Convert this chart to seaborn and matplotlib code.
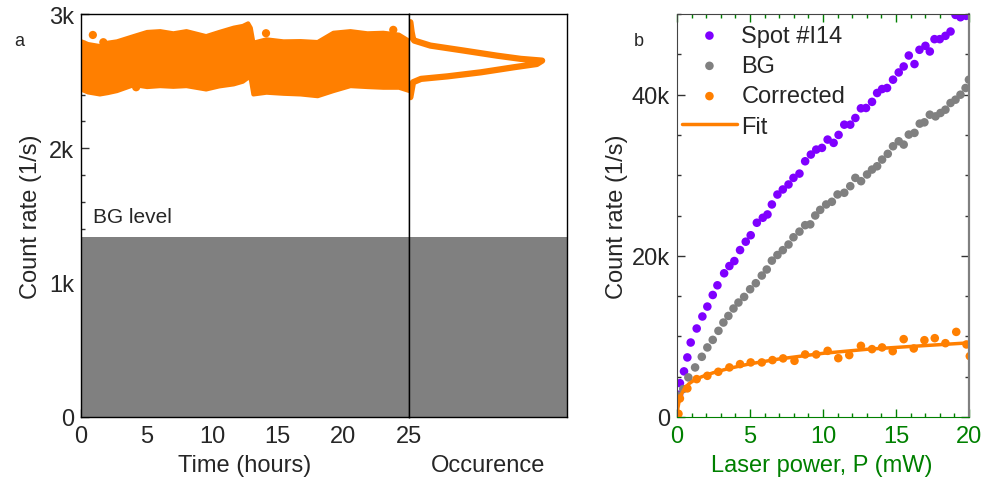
import matplotlib
matplotlib.use("Agg")
import matplotlib.pyplot as plt
import seaborn as sns
from matplotlib.ticker import MultipleLocator, FixedLocator

# ---- panel a: time trace (envelope of the dense trace)
t_env = [0, 0.5, 1.4, 2.0, 2.7, 4.0, 5.0, 6.0, 7.0, 8.0, 9.5, 10.5, 11.6, 12.3, 12.7,
         12.9, 13.1, 14.1, 15.4, 16.7, 18.0, 19.2, 20.5, 21.8, 23.0, 24.2, 25]
rate_upper = [2800, 2780, 2765, 2790, 2800, 2840, 2870, 2876, 2860, 2876, 2839, 2870, 2902,
              2915, 2934, 2900, 2790, 2815, 2800, 2802, 2795, 2864, 2876, 2860, 2864, 2850, 2802]
rate_lower = [2440, 2420, 2405, 2415, 2430, 2475, 2460, 2467, 2462, 2467, 2442, 2465, 2480,
              2500, 2529, 2520, 2405, 2418, 2410, 2405, 2392, 2430, 2467, 2460, 2455, 2455, 2430]
t_out = [0.9, 1.7, 4.2, 14.1, 23.8]
rate_out = [2844, 2790, 2455, 2857, 2882]
bg_level = 1340

# occurrence histogram (count rate vs. normalised occurrence)
occ_rate = [2939, 2864, 2815, 2802, 2765, 2728, 2690, 2666, 2653, 2628, 2604, 2566, 2536, 2517, 2492, 2381]
occ = [0.01, 0.02, 0.03, 0.04, 0.16, 0.41, 0.66, 0.84, 1.0, 0.96, 0.79, 0.54, 0.29, 0.09, 0.03, 0.01]

# ---- panel b: power dependence
p_spot = [0.14, 0.2, 0.48, 0.71, 0.94, 1.35, 1.74, 2.08, 2.45, 2.77, 3.23, 3.59, 3.93, 4.32, 4.71,
          5.05, 5.47, 5.88, 6.2, 6.5, 6.88, 7.25, 7.64, 7.98, 8.39, 8.78, 9.17, 9.54, 9.93, 10.32,
          10.73, 11.07, 11.46, 11.87, 12.22, 12.6, 12.95, 13.36, 13.71, 14.05, 14.39, 14.8, 15.19,
          15.53, 15.88, 16.27, 16.61, 17.02, 17.32, 17.64, 18.0, 18.39, 18.74, 19.08, 19.42, 19.81]
spot = [2760, 4200, 5660, 7390, 9240, 10980, 12470, 13700, 15140, 16340, 17830, 18730, 19350,
        20710, 21750, 22550, 24100, 24720, 25130, 26370, 27600, 28230, 28850, 29670, 30200, 31730,
        32560, 33180, 33390, 34420, 34010, 35000, 36270, 36270, 37100, 38300, 38340, 39100, 40200,
        40690, 40820, 41850, 42750, 43490, 44850, 43790, 45560, 46050, 45350, 46880, 46880, 47290,
        47830, 49890, 49600, 49770]

p_bg = [0.09, 0.43, 0.78, 1.24, 1.70, 2.08, 2.45, 2.84, 3.18, 3.52, 3.87, 4.21, 4.60, 5.01, 5.40,
        5.81, 6.15, 6.50, 6.88, 7.25, 7.64, 7.98, 8.39, 8.78, 9.13, 9.47, 9.81, 10.22, 10.61, 11.0,
        11.46, 11.87, 12.22, 12.61, 13.02, 13.36, 13.71, 14.05, 14.44, 14.8, 15.19, 15.53, 15.88,
        16.27, 16.63, 16.95, 17.32, 17.71, 18.05, 18.39, 18.74, 19.08, 19.42, 19.77, 20.0]
bg = [2640, 3470, 4910, 6150, 7470, 8630, 9570, 10690, 11720, 12540, 13460, 14200, 14900, 15850,
      16600, 17550, 18300, 19400, 20100, 20700, 21400, 22300, 23000, 23800, 23900, 25000, 25700,
      26370, 26700, 27610, 27820, 28640, 29670, 29260, 30090, 30700, 31110, 31940, 32650, 33590,
      34210, 33800, 35040, 35250, 36400, 36560, 37510, 37300, 37720, 38130, 38960, 39370, 39990,
      40820, 41850]

p_cor = [0.1, 0.2, 0.71, 1.35, 2.08, 2.83, 3.59, 4.32, 5.05, 5.81, 6.54, 7.27, 8.05, 8.78, 9.54,
         10.32, 11.05, 11.80, 12.60, 13.36, 14.05, 14.78, 15.53, 16.22, 16.95, 17.66, 18.39,
         19.13, 19.83, 20.06]
cor = [400, 2300, 3550, 4700, 5110, 5610, 6150, 6560, 6770, 6770, 7060, 7270, 6970, 7760, 7760,
       8210, 7300, 7680, 8830, 8420, 8630, 8170, 9660, 8500, 9530, 9780, 9160, 10560, 9000, 7550]

p_fit = [0, 0.05, 0.15, 0.3, 0.5, 0.8, 1.2, 1.7, 2.5, 3.5, 5, 7, 10, 13, 16, 20]
fit = [0, 1000, 2000, 2800, 3500, 4100, 4600, 5000, 5500, 6000, 6600, 7200, 7900, 8400, 8750, 9200]

orange = "#ff7f00"
purple = "#7f00ff"
grey = "#808080"
green = "#008000"
fs = 17

sns.set_style("ticks")
plt.rcParams["font.family"] = ["Liberation Sans", "DejaVu Sans"]
plt.rcParams["xtick.direction"] = "in"
plt.rcParams["ytick.direction"] = "in"

fig = plt.figure(figsize=(9.87, 4.89), dpi=100)
ax_t = fig.add_axes([0.0821, 0.1452, 0.3323, 0.8241])
ax_o = fig.add_axes([0.4144, 0.1452, 0.1601, 0.8241], sharey=ax_t)
ax_p = fig.add_axes([0.6859, 0.1452, 0.2958, 0.8241])

# panel a
ax_t.axhspan(0, bg_level, color=grey, lw=0)
ax_t.fill_between(t_env, rate_lower, rate_upper, color=orange, edgecolor=orange, lw=3)
sns.scatterplot(x=t_out, y=rate_out, ax=ax_t, color=orange, s=35, edgecolor="none")
ax_t.set_xlim(0, 25)
ax_t.set_ylim(0, 3000)
ax_t.xaxis.set_major_locator(MultipleLocator(5))
ax_t.xaxis.set_minor_locator(MultipleLocator(1))
ax_t.yaxis.set_major_locator(FixedLocator([0, 1000, 2000, 3000]))
ax_t.yaxis.set_minor_locator(MultipleLocator(200))
ax_t.set_yticklabels(["0", "1k", "2k", "3k"])
ax_t.tick_params(which="both", top=False, right=False, labelsize=fs, width=1, color="#333333")
ax_t.tick_params(axis="y", pad=5)
ax_t.tick_params(axis="x", pad=6)
ax_t.tick_params(which="major", length=6)
ax_t.tick_params(which="minor", length=3)
ax_t.text(0.9, 1490, "BG level", fontsize=15, va="center", ha="left")
ax_t.set_xlabel("Time (hours)", fontsize=fs)
ax_t.set_ylabel("Count rate (1/s)", fontsize=fs)
ax_t.xaxis.set_label_coords(0.5, -0.092)
ax_t.yaxis.set_label_coords(-0.119, 0.5)
for s in ax_t.spines.values():
    s.set_color("black")
    s.set_linewidth(1.0)
    s.set_zorder(5)

ax_o.axhspan(0, bg_level, color=grey, lw=0)
sns.lineplot(x=occ, y=occ_rate, ax=ax_o, sort=False, estimator=None, color=orange, lw=4.5,
             solid_capstyle="round", solid_joinstyle="round")
ax_o.set_xlim(0, 1.187)
ax_o.set_ylim(0, 3000)
ax_o.tick_params(which="both", left=False, bottom=False, labelleft=False, labelbottom=False)
ax_o.set_xlabel("Occurence", fontsize=fs)
ax_o.set_ylabel("")
ax_o.xaxis.set_label_coords(0.5, -0.092)
for s in ax_o.spines.values():
    s.set_color("black")
    s.set_linewidth(1.0)
    s.set_zorder(5)

# panel b
sns.scatterplot(x=p_spot, y=spot, ax=ax_p, color=purple, s=38, edgecolor="none", label="Spot #I14")
sns.scatterplot(x=p_bg, y=bg, ax=ax_p, color=grey, s=38, edgecolor="none", label="BG")
sns.scatterplot(x=p_cor, y=cor, ax=ax_p, color=orange, s=38, edgecolor="none", label="Corrected")
sns.lineplot(x=p_fit, y=fit, ax=ax_p, color=orange, lw=2.5, label="Fit")
ax_p.set_xlim(0, 20)
ax_p.set_ylim(0, 50000)
ax_p.xaxis.set_major_locator(MultipleLocator(5))
ax_p.xaxis.set_minor_locator(MultipleLocator(1))
ax_p.yaxis.set_major_locator(FixedLocator([0, 20000, 40000]))
ax_p.yaxis.set_minor_locator(MultipleLocator(5000))
ax_p.set_yticklabels(["0", "20k", "40k"])
ax_p.tick_params(which="both", top=True, right=True, labelsize=fs, width=1, color="#333333", pad=5)
ax_p.tick_params(axis="x", pad=6)
ax_p.tick_params(which="major", length=6)
ax_p.tick_params(which="minor", length=3)
ax_p.tick_params(axis="x", which="both", colors=green, labelcolor=green)
ax_p.set_xlabel("Laser power, P (mW)", fontsize=fs, color=green)
ax_p.set_ylabel("Count rate (1/s)", fontsize=fs)
ax_p.xaxis.set_label_coords(0.497, -0.092)
ax_p.yaxis.set_label_coords(-0.168, 0.5)
ax_p.spines["left"].set_color("#444444")
ax_p.spines["top"].set_color("#444444")
ax_p.spines["right"].set_color(grey)
ax_p.spines["right"].set_linewidth(1.6)
ax_p.spines["bottom"].set_color(green)
for s in ax_p.spines.values():
    s.set_zorder(5)
ax_p.legend(loc="upper left", bbox_to_anchor=(0.002, 0.985), frameon=False, fontsize=fs,
            handlelength=2.3, handletextpad=0.2, labelspacing=0.35, borderpad=0.2,
            borderaxespad=0, markerscale=1.0)

fig.text(14 / 987, 1 - 42 / 489, "a", fontsize=13, va="center")
fig.text(634 / 987, 1 - 42 / 489, "b", fontsize=13, va="center")

fig.savefig("out.png", dpi=100)
